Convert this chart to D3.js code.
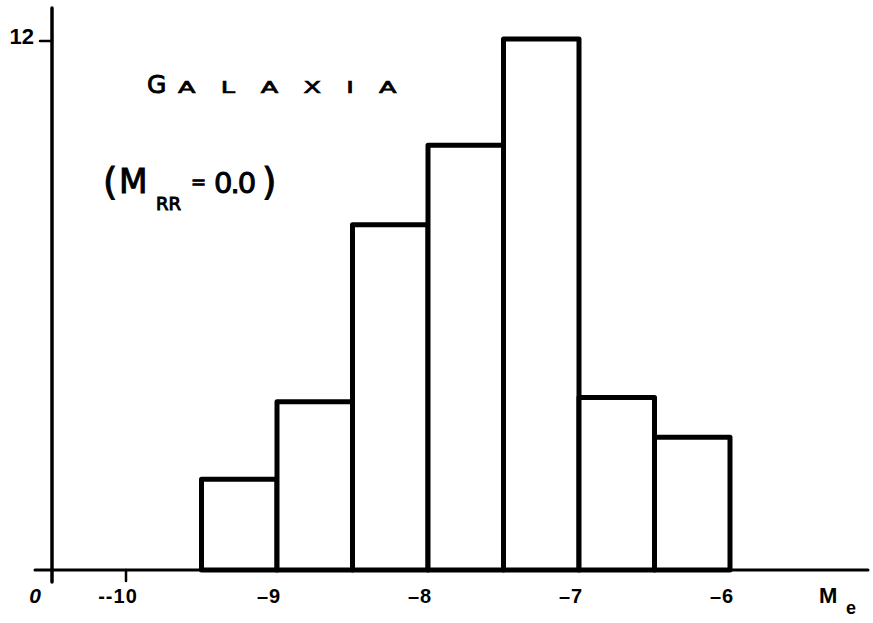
<!DOCTYPE html>
<html>
<head>
<meta charset="utf-8">
<script src="https://cdn.jsdelivr.net/npm/d3@7"></script>
<style>
  html, body { margin: 0; padding: 0; background: #fff; }
  svg { display: block; }
  .lbl { font-family: "Liberation Sans", "DejaVu Sans", sans-serif; font-weight: bold; fill: #000; }
</style>
</head>
<body>
<div id="chart"></div>
<script>
// histogram bins (magnitude M_e), left edges, width 0.5
const binStarts = [-9.5, -9, -8.5, -8, -7.5, -7, -6.5];
const binWidth = 0.5;
const counts = [2.05, 3.8, 7.8, 9.6, 12, 3.9, 3.0];
const xTicks = [-10, -9, -8, -7, -6];
const xTickLabels = ["--10", "\u20139", "\u20138", "\u20137", "\u20136"];
const yTicks = [12];

const width = 873, height = 623;

const svg = d3.select("#chart").append("svg")
  .attr("width", width)
  .attr("height", height);

const x = d3.scaleLinear().domain([-10, -6]).range([126, 730]);
const y = d3.scaleLinear().domain([0, 12]).range([570, 39]);

// axes lines (hand drawn look)
const axis = svg.append("g")
  .attr("stroke", "#000")
  .attr("stroke-linecap", "round");

axis.append("line") // x axis
  .attr("x1", 35).attr("x2", 868)
  .attr("y1", y(0)).attr("y2", y(0))
  .attr("stroke-width", 3);

axis.append("line") // y axis
  .attr("x1", 52).attr("x2", 52)
  .attr("y1", 8).attr("y2", 582)
  .attr("stroke-width", 3.5);

// y ticks
axis.selectAll(".ytick")
  .data(yTicks)
  .join("line")
  .attr("x1", 40).attr("x2", 52)
  .attr("y1", d => y(d) + 2).attr("y2", d => y(d) + 2)
  .attr("stroke-width", 2.5);

// x tick at -10 only (others hidden by bars)
axis.append("line")
  .attr("x1", x(-10)).attr("x2", x(-10))
  .attr("y1", y(0)).attr("y2", y(0) + 11)
  .attr("stroke-width", 2.5);

// bars
svg.append("g")
  .selectAll("rect")
  .data(binStarts)
  .join("rect")
  .attr("x", d => x(d))
  .attr("width", x(binWidth) - x(0))
  .attr("y", (d, i) => y(counts[i]))
  .attr("height", (d, i) => y(0) - y(counts[i]))
  .attr("fill", "#fff")
  .attr("stroke", "#000")
  .attr("stroke-width", 5)
  .attr("stroke-linejoin", "round");

// x tick labels
svg.append("g")
  .selectAll("text")
  .data(xTicks)
  .join("text")
  .attr("class", "lbl")
  .attr("x", d => x(d) - 8)
  .attr("y", 603)
  .attr("text-anchor", "middle")
  .attr("font-size", 20)
  .attr("letter-spacing", 1)
  .text((d, i) => xTickLabels[i]);

// y tick labels
svg.append("g")
  .selectAll("text")
  .data(yTicks)
  .join("text")
  .attr("class", "lbl")
  .attr("x", 34)
  .attr("y", d => y(d) + 5)
  .attr("text-anchor", "end")
  .attr("font-size", 22)
  .text(d => d);

// origin
svg.append("text")
  .attr("class", "lbl")
  .attr("x", 35).attr("y", 603)
  .attr("text-anchor", "middle")
  .attr("font-size", 21)
  .attr("font-style", "italic")
  .text("0");

// axis title M_e
svg.append("text")
  .attr("class", "lbl")
  .attr("x", 819).attr("y", 603)
  .attr("font-size", 22)
  .text("M");
svg.append("text")
  .attr("class", "lbl")
  .attr("x", 846).attr("y", 614)
  .attr("font-size", 18)
  .text("e");

// title, hand-lettered small caps
const titleFont = "'DejaVu Sans', sans-serif";
svg.append("text")
  .attr("x", 147).attr("y", 93)
  .attr("font-family", titleFont)
  .attr("font-size", 25)
  .attr("fill", "#000")
  .attr("stroke", "#000")
  .attr("stroke-width", 0.9)
  .text("G");
svg.append("text")
  .attr("transform", "translate(178,93) scale(1.55,1)")
  .attr("font-family", titleFont)
  .attr("font-size", 16.5)
  .attr("fill", "#000")
  .attr("stroke", "#000")
  .attr("stroke-width", 0.7)
  .attr("textLength", 141)
  .attr("lengthAdjust", "spacing")
  .text("ALAXIA");

// (M_RR = 0.0)
const ann = svg.append("g")
  .attr("font-family", titleFont)
  .attr("fill", "#000")
  .attr("stroke", "#000")
  .attr("stroke-width", 1);
ann.append("text").attr("x", 103).attr("y", 195).attr("font-size", 37).text("(");
ann.append("text").attr("x", 119).attr("y", 193).attr("font-size", 33).text("M");
ann.append("text").attr("x", 156).attr("y", 210).attr("font-size", 18).text("RR");
ann.append("text").attr("x", 191).attr("y", 188).attr("font-size", 18).text("=");
ann.append("text").attr("x", 214).attr("y", 193).attr("font-size", 29).attr("letter-spacing", -2).text("0.0");
ann.append("text").attr("x", 262).attr("y", 195).attr("font-size", 37).text(")");
</script>
</body>
</html>
